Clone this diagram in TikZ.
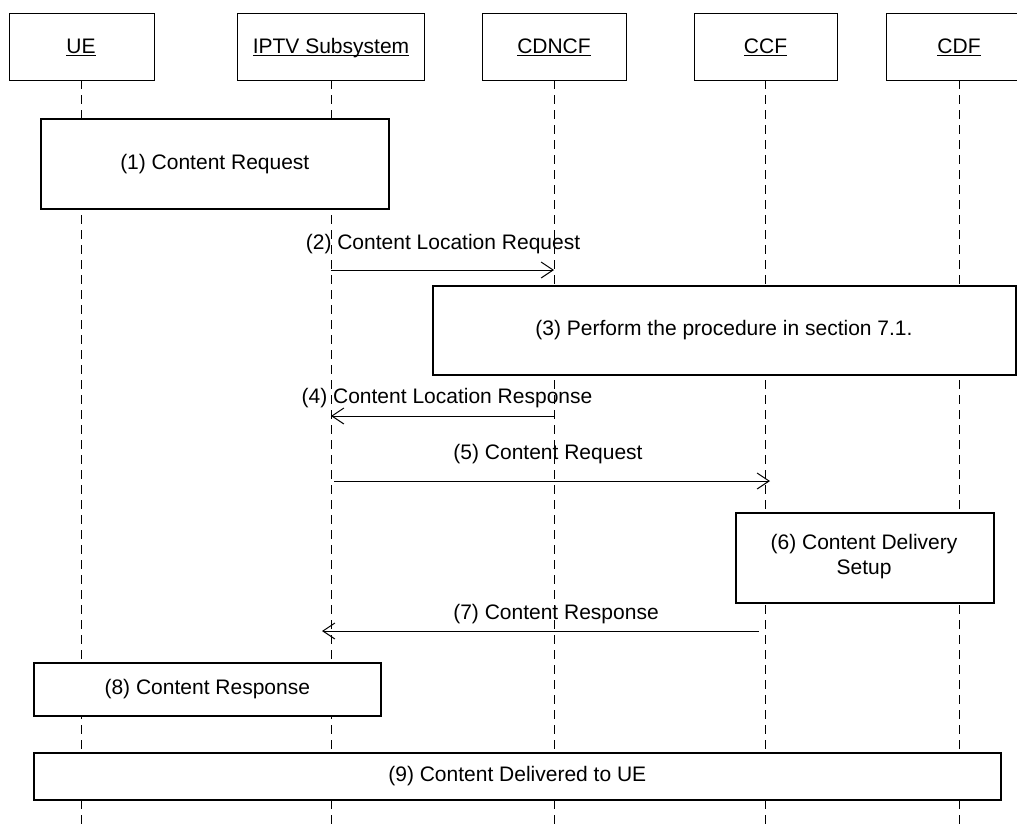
\documentclass[tikz,border=0pt]{standalone}
\usepackage{fontspec}
\setmainfont{Liberation Sans}
\usetikzlibrary{arrows.meta}
\newcommand\hdul[1]{\setbox0\hbox{#1}\rlap{\rule[-2.6pt]{\wd0}{1.1pt}}\box0}
\begin{document}
\begin{tikzpicture}[x=1pt,y=-1pt,
  every node/.style={font=\fontsize{21}{25}\selectfont, inner sep=0pt},
  head/.style={draw=black, line width=1pt, fill=white, minimum height=67pt, anchor=north west},
  htext/.style={anchor=base},
  proc/.style={draw=black, line width=1.6pt, fill=white, anchor=north west, align=center},
  life/.style={line width=1pt, dash pattern=on 9pt off 6pt},
  msg/.style={line width=1pt, -{Straight Barb[length=12pt,width=16pt,line width=1pt]}},
  lbl/.style={anchor=base}
]
\useasboundingbox (0,0) rectangle (1017,825);
\fill[white] (0,0) rectangle (1017,825);

% header boxes
\node[head, minimum width=145pt] (ueb) at (9,13) {};
\node[htext] at (81,53) (ue) {\hdul{UE}};
\node[head, minimum width=187pt] (iptvb) at (237,13) {};
\node[htext] at (331,53) (iptv) {\hdul{IPTV Subsystem}};
\node[head, minimum width=144pt] (cdncfb) at (482,13) {};
\node[htext] at (554,53) (cdncf) {\hdul{CDNCF}};
\node[head, minimum width=143pt] (ccfb) at (694,13) {};
\node[htext] at (765.5,53) (ccf) {\hdul{CCF}};
\node[head, minimum width=150pt] (cdfb) at (886,13) {};
\node[htext] at (959,53) (cdf) {\hdul{CDF}};

% lifeline ends
\coordinate (ue0) at (81,80);   \coordinate (ue1) at (81,825);
\coordinate (ip0) at (331,80);  \coordinate (ip1) at (331,825);
\coordinate (cn0) at (554,80);  \coordinate (cn1) at (554,825);
\coordinate (cc0) at (765,80);  \coordinate (cc1) at (765,825);
\coordinate (cd0) at (959,80);  \coordinate (cd1) at (959,825);
\draw[life] (ue0) -- (ue1);
\draw[life] (ip0) -- (ip1);
\draw[life] (cn0) -- (cn1);
\draw[life] (cc0) -- (cc1);
\draw[life] (cd0) -- (cd1);

% (1)
\node[proc, minimum width=348pt, minimum height=90pt] (s1) at (40,118) {};
\node at (s1.center) (t1) {(1) Content Request};

% (2)
\coordinate (m2a) at (331,270); \coordinate (m2b) at (554,270);
\draw[msg] (m2a) -- (m2b);
\node[lbl] (l2) at (443,249) {(2) Content Location Request};

% (3)
\node[proc, minimum width=583pt, minimum height=89pt] (s3) at (432,285) {};
\node at (724,330) (t3) {(3) Perform the procedure in section 7.1.};

% (4)
\coordinate (m4a) at (554,416); \coordinate (m4b) at (331,416);
\draw[msg] (m4a) -- (m4b);
\node[lbl] (l4) at (447,403) {(4) Content Location Response};

% (5)
\coordinate (m5a) at (334,481); \coordinate (m5b) at (770,481);
\draw[msg] (m5a) -- (m5b);
\node[lbl] (l5) at (548,459) {(5) Content Request};

% (6)
\node[proc, minimum width=258pt, minimum height=90pt] (s6) at (735,512) {};
\node[align=center] at (864,557) (t6) {(6) Content Delivery\\Setup};

% (7)
\coordinate (m7a) at (759,631); \coordinate (m7b) at (322,631);
\draw[msg] (m7a) -- (m7b);
\node[lbl] (l7) at (556,619) {(7) Content Response};

% (8)
\node[proc, minimum width=347pt, minimum height=53pt] (s8) at (33,662) {};
\node at (s8.center) (t8) {(8) Content Response};

% (9)
\node[proc, minimum width=967pt, minimum height=47pt] (s9) at (33,752) {};
\node at (s9.center) (t9) {(9) Content Delivered to UE};
\end{tikzpicture}
\end{document}
